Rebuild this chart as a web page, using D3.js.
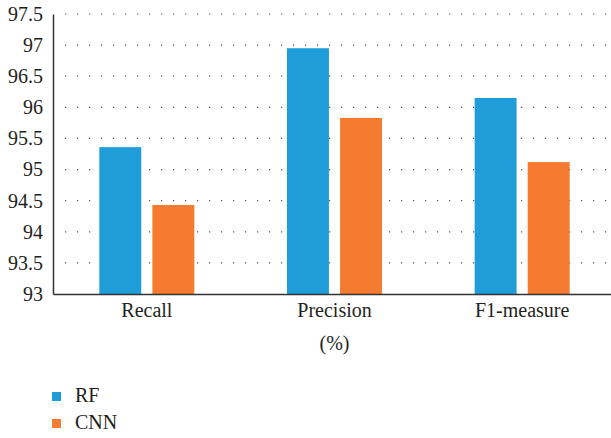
<html>
<head>
  <style>
    body { margin: 0; background: white; }
    svg { display: block; font-family: "Liberation Serif", "Times New Roman", serif; }
  </style>
</head>
<body>
  <svg id="chart"></svg>
  <script src="https://cdn.jsdelivr.net/npm/d3@7"></script>
  <script>
    // data
    var categories = ["Recall", "Precision", "F1-measure"];
    var seriesNames = ["RF", "CNN"];
    var rfValues = [95.36, 96.95, 96.15];
    var cnnValues = [94.43, 95.83, 95.12];
    var yTicks = [93, 93.5, 94, 94.5, 95, 95.5, 96, 96.5, 97, 97.5];
    var colors = ["#1e9dd8", "#f47b2f"];

    var width = 611, height = 438;
    var fontFamily = "'Liberation Serif', 'Times New Roman', serif";
    var svg = d3.select("#chart").attr("width", width).attr("height", height);

    var x0 = d3.scaleBand().domain(categories).range([53, 616]);
    var x1 = d3.scaleBand().domain(seriesNames).range([0, 95]).paddingInner(0.21);
    var y = d3.scaleLinear().domain([93, 97.5]).range([294, 14]);

    // dotted grid
    svg.append("g").selectAll("line")
      .data(yTicks.slice(1))
      .join("line")
      .attr("x1", 65).attr("x2", width)
      .attr("y1", d => y(d)).attr("y2", d => y(d))
      .attr("stroke", "#555")
      .attr("stroke-width", 1.2)
      .attr("stroke-dasharray", "1.2,10.8");

    // bars
    var rows = categories.map((c, i) => ({ cat: c, vals: [rfValues[i], cnnValues[i]] }));
    svg.append("g").selectAll("g")
      .data(rows)
      .join("g")
      .attr("transform", d => "translate(" + (x0(d.cat) + x0.bandwidth() / 2 - 47.5) + ",0)")
      .selectAll("rect")
      .data(d => d.vals.map((v, j) => ({ s: seriesNames[j], v: v, c: colors[j] })))
      .join("rect")
      .attr("x", d => x1(d.s))
      .attr("width", x1.bandwidth())
      .attr("y", d => y(d.v))
      .attr("height", d => y(93) - y(d.v))
      .attr("fill", d => d.c);

    // y axis
    var yAxis = svg.append("g")
      .attr("transform", "translate(53,0)")
      .call(d3.axisLeft(y).tickValues(yTicks).tickSize(0).tickPadding(10).tickFormat(d3.format("")));
    yAxis.attr("font-family", fontFamily);
    yAxis.select(".domain").attr("stroke", "#333").attr("stroke-width", 1.5);
    yAxis.selectAll("text").attr("font-size", "20px").attr("fill", "#231f20");

    // x axis
    var xAxis = svg.append("g")
      .attr("transform", "translate(0,294)")
      .call(d3.axisBottom(x0).tickSize(0).tickPadding(9));
    xAxis.attr("font-family", fontFamily);
    xAxis.select(".domain").attr("stroke", "#333").attr("stroke-width", 1.5);
    xAxis.selectAll("text").attr("font-size", "20px").attr("fill", "#231f20");

    svg.append("text")
      .attr("x", x0("Precision") + x0.bandwidth() / 2)
      .attr("y", 350)
      .attr("text-anchor", "middle")
      .attr("font-size", "20px")
      .attr("fill", "#231f20")
      .text("(%)");

    // legend
    var legend = svg.append("g").selectAll("g")
      .data(seriesNames)
      .join("g")
      .attr("transform", (d, i) => "translate(52," + (392 + i * 27) + ")");
    legend.append("rect")
      .attr("width", 9).attr("height", 9)
      .attr("fill", (d, i) => colors[i]);
    legend.append("text")
      .attr("x", 23).attr("y", 10)
      .attr("font-size", "20px")
      .attr("fill", "#231f20")
      .text(d => d);
  </script>
</body>
</html>
